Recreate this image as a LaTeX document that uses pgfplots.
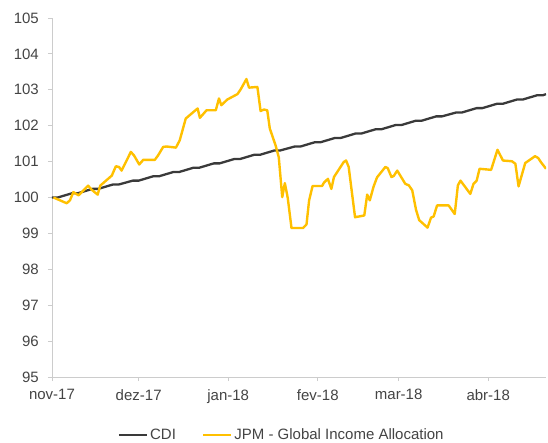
\documentclass[border=0pt]{standalone}
\usepackage{fontspec}
\setmainfont{Liberation Sans}
\usepackage{pgfplots}
\pgfplotsset{compat=1.18}
\definecolor{cdi}{HTML}{3A3A3A}
\definecolor{jpm}{HTML}{FFC000}
\definecolor{axgray}{HTML}{CCCCCC}
\definecolor{txt}{HTML}{444444}
\begin{document}
\fontsize{15}{18}\selectfont
\begin{tikzpicture}
\path[use as bounding box] (-52pt,-65pt) rectangle (496pt,377pt);
\begin{axis}[
 scale only axis, width=494pt, height=359pt,
 xmin=0, xmax=171, ymin=95, ymax=105,
 axis lines=left, axis line style={-, draw=axgray, line width=0.8pt},
 xtick={0,30,61,92,120,151},
 xticklabels={nov-17,dez-17,jan-18,fev-18,mar-18,abr-18},
 ytick={95,96,...,105},
 tick align=outside, major tick length=4pt,
 tick style={draw=axgray, line width=0.8pt},
 tick label style={font=\fontsize{15}{18}\selectfont, text=txt},
 /pgf/number format/assume math mode=true,
 yticklabel style={xshift=-4pt},
 xticklabel style={yshift=-3pt},
 legend columns=-1,
 legend style={at={(axis description cs:0.465,0)}, anchor=center, yshift=-58pt,
   draw=none, fill=none, font=\fontsize{15}{18}\selectfont, text=txt,
   /tikz/every even column/.append style={column sep=24pt}},
 legend image code/.code={\draw[#1] (0pt,0pt) -- (28pt,0pt);},
]
\addplot[cdi, line width=2.3pt, line join=round] coordinates {
(0,100.00) (2,100.00) (7,100.12) (9,100.12) (14,100.24) (16,100.24)
(21,100.36) (23,100.36) (28,100.47) (30,100.47) (35,100.59) (37,100.59)
(42,100.71) (44,100.71) (49,100.83) (51,100.83) (56,100.95) (58,100.95)
(63,101.07) (65,101.07) (70,101.19) (72,101.19) (77,101.31) (79,101.31)
(84,101.42) (86,101.42) (91,101.54) (93,101.54) (98,101.66) (100,101.66)
(105,101.78) (107,101.78) (112,101.90) (114,101.90) (119,102.02) (121,102.02)
(126,102.14) (128,102.14) (133,102.26) (135,102.26) (140,102.37) (142,102.37)
(147,102.49) (149,102.49) (154,102.61) (156,102.61) (161,102.73) (163,102.73)
(168,102.85) (170,102.85) (171,102.88)};
\addlegendentry{CDI}
\addplot[jpm, line width=2.4pt, line join=round] coordinates {
(0.5,100.00) (5.1,99.84) (6.2,99.92) (7.4,100.15) (9.2,100.06) (12.5,100.33)
(13.7,100.22) (15.8,100.08) (16.7,100.33) (20.7,100.61) (22.1,100.87) (23.2,100.85)
(24.1,100.75) (27.3,101.27) (28.4,101.17) (30.2,100.92) (31.6,101.05) (35.6,101.05)
(36.7,101.17) (38.5,101.41) (39.7,101.42) (42.9,101.39) (44.2,101.59) (46.3,102.20)
(50.4,102.48) (51.2,102.22) (53.5,102.43) (56.7,102.43) (57.8,102.76) (58.6,102.57)
(60.7,102.73) (64.2,102.88) (65.3,103.01) (67.3,103.30) (68.2,103.06) (71.1,103.08)
(72.2,102.41) (73.4,102.45) (74.5,102.43) (75.4,101.92) (77.4,101.45) (78.5,101.12)
(79.7,100.01) (80.6,100.40) (81.6,99.99) (82.9,99.15) (86.9,99.15) (88.1,99.25)
(89.0,99.92) (90.2,100.32) (93.5,100.32) (94.1,100.41) (95.5,100.52) (96.7,100.24)
(97.6,100.57) (101.0,100.99) (101.8,101.03) (102.7,100.85) (104.9,99.45) (108.1,99.50)
(109.1,100.08) (110.0,99.92) (111.3,100.30) (112.5,100.56) (115.4,100.85) (116.2,100.82)
(117.5,100.57) (118.3,100.60) (119.5,100.75) (122.3,100.38) (123.5,100.34) (124.7,100.20)
(126.0,99.66) (127.1,99.37) (130.0,99.16) (131.2,99.44) (132.1,99.47) (133.3,99.78)
(137.3,99.78) (139.4,99.54) (140.5,100.34) (141.4,100.47) (144.8,100.10) (145.9,100.38)
(147.0,100.47) (148.0,100.80) (152.0,100.77) (154.2,101.33) (156.1,101.03) (159.2,101.01)
(160.4,100.94) (161.5,100.31) (163.8,100.96) (167.2,101.15) (168.3,101.10) (169.2,100.99)
(171.0,100.80)};
\addlegendentry{JPM - Global Income Allocation}
\end{axis}
\end{tikzpicture}
\end{document}
